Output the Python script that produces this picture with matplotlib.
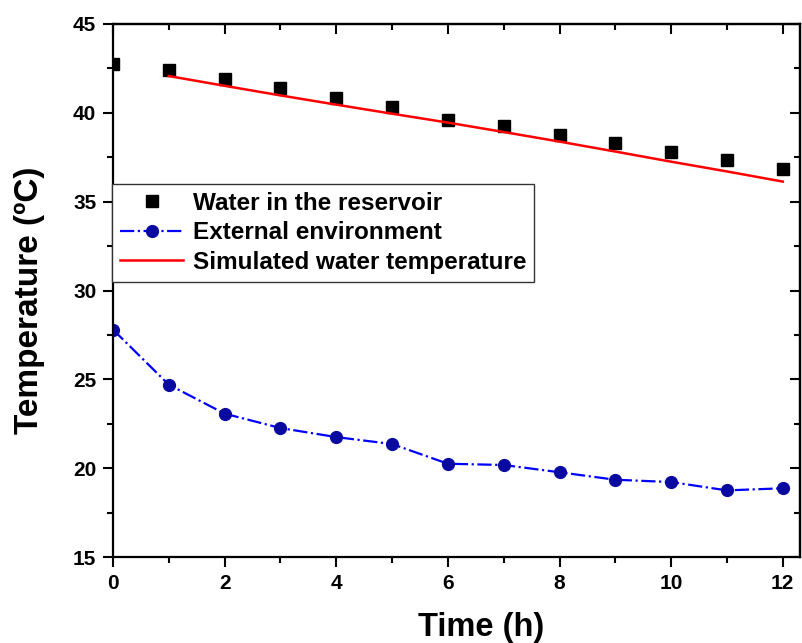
import matplotlib
matplotlib.use('Agg')
import matplotlib.pyplot as plt
from matplotlib.ticker import MultipleLocator

plt.rcParams['font.family'] = ['Liberation Sans', 'DejaVu Sans']
plt.rcParams['font.weight'] = 'bold'

hours = [0, 1, 2, 3, 4, 5, 6, 7, 8, 9, 10, 11, 12]
water = [42.75, 42.4, 41.9, 41.4, 40.85, 40.35, 39.6, 39.25, 38.75, 38.3, 37.8, 37.35, 36.85]
external = [27.8, 24.7, 23.07, 22.26, 21.75, 21.36, 20.25, 20.18, 19.77, 19.35, 19.22, 18.75, 18.87]
sim_hours = [1, 2, 3, 4, 5, 6, 7, 8, 9, 10, 11, 12]
simulated = [42.07, 41.52, 40.98, 40.46, 39.95, 39.45, 38.92, 38.38, 37.82, 37.25, 36.7, 36.13]

fig = plt.figure(figsize=(8.03, 6.43), dpi=100)
ax = fig.add_axes([0.1407, 0.1337, 0.855, 0.829])

p1, = ax.plot(hours, water, linestyle='none', marker='s', markersize=8, color='black')
p2, = ax.plot(hours, external, linestyle='-.', linewidth=1.6, color='#0000ff',
              marker='o', markersize=8.5, markerfacecolor='#0a0aa0', markeredgecolor='#0a0aa0')
p3, = ax.plot(sim_hours, simulated, color='#ff0000', linewidth=1.8)

ax.set_xlim(0, 12.3)
ax.set_ylim(15, 45)
ax.xaxis.set_major_locator(MultipleLocator(2))
ax.xaxis.set_minor_locator(MultipleLocator(1))
ax.yaxis.set_major_locator(MultipleLocator(5))
ax.yaxis.set_minor_locator(MultipleLocator(2.5))
ax.tick_params(which='major', direction='out', length=7, width=1.5, labelsize=15, pad=5)
ax.tick_params(which='minor', direction='out', length=4, width=1.5)
for s in ax.spines.values():
    s.set_linewidth(1.6)

# mirrored ticks pointing inward on top and right
top = ax.secondary_xaxis('top')
top.xaxis.set_major_locator(MultipleLocator(2))
top.xaxis.set_minor_locator(MultipleLocator(1))
top.tick_params(which='major', direction='in', length=7, width=1.5, labeltop=False)
top.tick_params(which='minor', direction='in', length=4, width=1.5)
top.spines['top'].set_linewidth(1.6)
right = ax.secondary_yaxis('right')
right.yaxis.set_major_locator(MultipleLocator(5))
right.yaxis.set_minor_locator(MultipleLocator(2.5))
right.tick_params(which='major', direction='in', length=7, width=1.5, labelright=False)
right.tick_params(which='minor', direction='in', length=4, width=1.5)
right.spines['right'].set_linewidth(1.6)

ax.set_xlabel('Time (h)', fontsize=23.5, fontweight='bold', labelpad=14)
ax.xaxis.label.set_x(0.536)
ax.set_ylabel('Temperature (ºC)', fontsize=24, fontweight='bold', labelpad=20)
ax.yaxis.label.set_y(0.482)

leg = ax.legend([p1, p2, p3], ['Water in the reservoir', 'External environment', 'Simulated water temperature'],
                loc='upper left', bbox_to_anchor=(-0.001, 0.70), fontsize=17.5, frameon=True,
                fancybox=False, edgecolor='#333333', handlelength=2.6, labelspacing=0.27,
                borderpad=0.32, handletextpad=0.4, borderaxespad=0, markerscale=1.0)
leg.get_frame().set_linewidth(1.0)
leg.get_frame().set_alpha(1)

fig.savefig('out.png', dpi=100)
